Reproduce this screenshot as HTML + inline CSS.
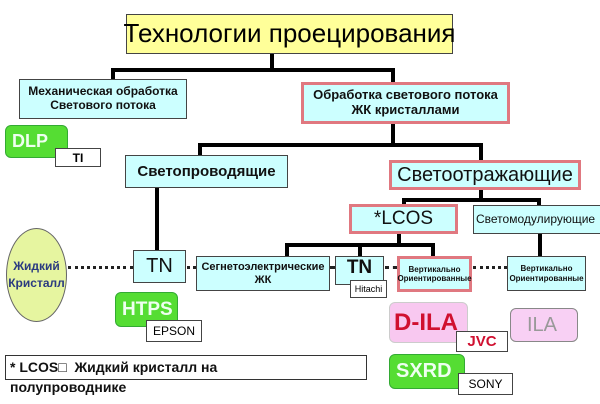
<!DOCTYPE html><html><head><meta charset="utf-8"><style>
body{margin:0;width:600px;height:404px;background:#fff;position:relative;overflow:hidden;font-family:"Liberation Sans",sans-serif}
div{position:absolute;box-sizing:border-box}
.b{background:#ccffff;border:1px solid #444;display:flex;align-items:center;justify-content:center;text-align:center;font-weight:bold;line-height:1.15;color:#111}
.r{border:3px solid #e07880}
.l{background:#000}
.g{background:#55dd33;border:1px solid #3a3;border-radius:6px;color:#eefff0;font-weight:bold;display:flex;align-items:center;padding-left:6px}
.w{background:#fff;border:1px solid #444;display:flex;align-items:center;justify-content:center;font-size:12px}
.d{border-top:3px dotted #222;height:0}
</style></head><body>
<div class="b" style="left:126px;top:14px;width:327px;height:40px;background:#ffff99;font-size:26px;font-weight:normal;color:#000;white-space:nowrap">Технологии проецирования</div>
<div class="l" style="left:270px;top:54px;width:4px;height:18px"></div>
<div class="l" style="left:111px;top:68px;width:284px;height:4px"></div>
<div class="l" style="left:111px;top:68px;width:4px;height:12px"></div>
<div class="l" style="left:391px;top:68px;width:4px;height:15px"></div>
<div class="b" style="left:19px;top:79px;width:168px;height:40px;font-size:12px">Механическая обработка<br>Светового потока</div>
<div class="b r" style="left:301px;top:82px;width:209px;height:42px;font-size:13px">Обработка светового потока<br>ЖК кристаллами</div>
<div class="g" style="left:5px;top:125px;width:63px;height:33px;font-size:18px">DLP</div>
<div class="w" style="left:55px;top:148px;width:46px;height:19px;font-weight:bold">TI</div>
<div class="l" style="left:391px;top:124px;width:4px;height:22px"></div>
<div class="l" style="left:198px;top:143px;width:285px;height:4px"></div>
<div class="l" style="left:198px;top:143px;width:4px;height:13px"></div>
<div class="l" style="left:479px;top:143px;width:4px;height:18px"></div>
<div class="b" style="left:125px;top:155px;width:163px;height:33px;font-size:15px">Светопроводящие</div>
<div class="b r" style="left:389px;top:160px;width:192px;height:30px;font-size:20px;font-weight:normal;white-space:nowrap">Светоотражающие</div>
<div class="l" style="left:155px;top:188px;width:4px;height:62px"></div>
<div class="l" style="left:479px;top:190px;width:4px;height:10px"></div>
<div class="l" style="left:402px;top:198px;width:139px;height:4px"></div>
<div class="l" style="left:402px;top:198px;width:4px;height:7px"></div>
<div class="l" style="left:537px;top:198px;width:4px;height:8px"></div>
<div class="b r" style="left:349px;top:204px;width:109px;height:30px;font-size:19px;font-weight:normal">*LCOS</div>
<div class="b" style="left:473px;top:205px;width:130px;height:29px;font-size:12px;font-weight:normal;justify-content:flex-start;padding-left:2px">Светомодулирующие</div>
<div class="l" style="left:397px;top:234px;width:4px;height:12px"></div>
<div class="l" style="left:285px;top:243px;width:150px;height:4px"></div>
<div class="l" style="left:285px;top:243px;width:4px;height:14px"></div>
<div class="l" style="left:358px;top:243px;width:4px;height:14px"></div>
<div class="l" style="left:431px;top:243px;width:4px;height:14px"></div>
<div class="l" style="left:538px;top:234px;width:4px;height:23px"></div>
<div style="left:6px;top:228px;width:61px;height:94px;border-radius:50%;background:#e6f5a0;border:1px solid #666;display:flex;align-items:center;justify-content:center;text-align:center;font-size:12px;font-weight:bold;color:#2a3a80;line-height:1.4">Жидкий<br>Кристалл</div>
<div class="d" style="left:68px;top:266px;width:65px"></div>
<div class="d" style="left:187px;top:266px;width:9px"></div>
<div class="d" style="left:330px;top:266px;width:6px"></div>
<div class="d" style="left:385px;top:266px;width:12px"></div>
<div class="d" style="left:473px;top:266px;width:34px"></div>
<div class="b" style="left:133px;top:250px;width:53px;height:33px;font-size:20px;font-weight:normal">TN</div>
<div class="b" style="left:196px;top:256px;width:134px;height:35px;font-size:11px">Сегнетоэлектрические<br>ЖК</div>
<div class="b" style="left:335px;top:256px;width:49px;height:29px;font-size:19px;font-weight:bold;align-items:flex-start">TN</div>
<div class="w" style="left:350px;top:280px;width:37px;height:18px;font-size:9px">Hitachi</div>
<div class="b r" style="left:397px;top:256px;width:75px;height:36px;font-size:8px">Вертикально<br>Ориентированные</div>
<div class="b" style="left:507px;top:256px;width:79px;height:35px;font-size:8px">Вертикально<br>Ориентированные</div>
<div class="g" style="left:115px;top:292px;width:63px;height:35px;font-size:19px">HTPS</div>
<div class="w" style="left:146px;top:320px;width:56px;height:22px">EPSON</div>
<div class="g" style="left:389px;top:302px;width:79px;height:41px;background:#f8c8f0;border-color:#ccc;color:#d01030;font-size:24px;padding-left:4px">D-ILA</div>
<div class="w" style="left:456px;top:331px;width:52px;height:21px;color:#d01030;font-weight:bold;font-size:15px">JVC</div>
<div class="g" style="left:510px;top:308px;width:68px;height:34px;background:#f8d0f4;border-color:#888;color:#999;font-size:20px;font-weight:normal;padding-left:16px">ILA</div>
<div class="g" style="left:389px;top:354px;width:76px;height:35px;font-size:20px">SXRD</div>
<div class="w" style="left:458px;top:373px;width:55px;height:22px">SONY</div>
<div style="left:5px;top:355px;width:362px;height:25px;border:1px solid #333"></div>
<div style="left:10px;top:357px;font-size:14px;font-weight:bold;line-height:20px;color:#111">* LCOS□&nbsp;&nbsp;Жидкий кристалл на<br>полупроводнике</div>
</body></html>
